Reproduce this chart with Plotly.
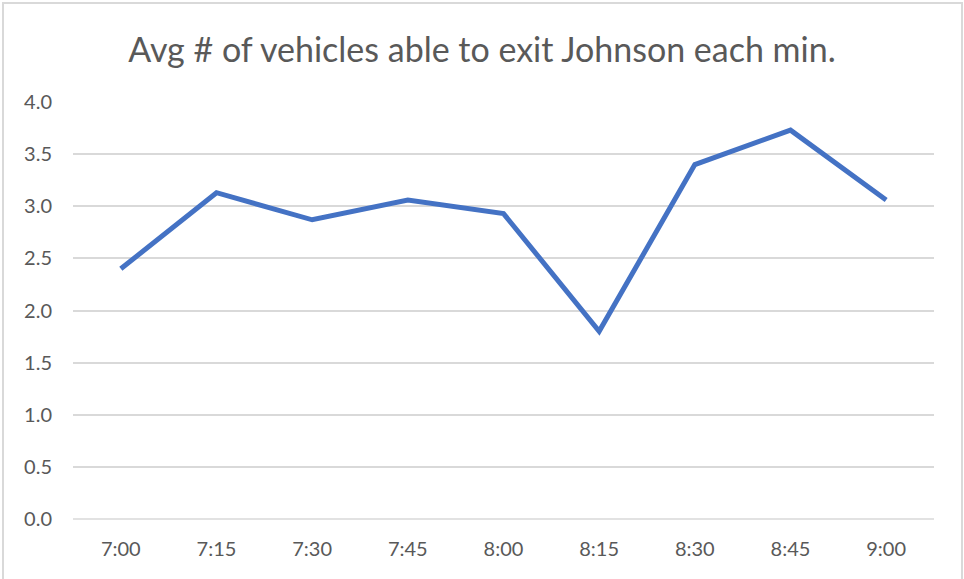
import plotly.graph_objects as go

times = ["7:00", "7:15", "7:30", "7:45", "8:00", "8:15", "8:30", "8:45", "9:00"]
avg_vehicles = [2.40, 3.13, 2.87, 3.06, 2.93, 1.80, 3.40, 3.73, 3.06]
y_ticks = [0, 0.5, 1.0, 1.5, 2.0, 2.5, 3.0, 3.5, 4.0]
y_tick_labels = ["0.0", "0.5", "1.0", "1.5", "2.0", "2.5", "3.0", "3.5", "4.0"]

W, H = 964, 579
L, R, T, B = 73, 30, 102, 60
pw, ph = W - L - R, H - T - B

fig = go.Figure()
fig.add_trace(go.Scatter(
    x=times, y=avg_vehicles, mode="lines",
    line=dict(color="#4472C4", width=5, shape="linear"),
    hoverinfo="x+y",
))

def px_x(p):
    return (p - L) / pw

def px_y(p):
    return (H - B - p) / ph

fig.update_layout(
    width=W, height=H,
    margin=dict(l=L, r=R, t=T, b=B),
    paper_bgcolor="white", plot_bgcolor="white",
    showlegend=False,
    font=dict(family="Lato, Open Sans, sans-serif", color="#595959", size=20),
    title=dict(
        text="Avg # of vehicles able to exit Johnson each min.",
        x=0.5, xanchor="center", y=1 - 50 / H, yanchor="middle",
        font=dict(size=34, color="#595959", family="Lato, sans-serif"),
    ),
    xaxis=dict(
        type="category", showgrid=False, showline=False, zeroline=False,
        ticks="", tickfont=dict(size=20, color="#595959"),
        range=[-0.5, len(times) - 0.5],
        ticklabelstandoff=16,
    ),
    yaxis=dict(
        range=[0, 4.0], tickvals=y_ticks, ticktext=y_tick_labels,
        showgrid=True, gridcolor="#D9D9D9", gridwidth=1.5,
        zeroline=False, showline=False, ticks="",
        tickfont=dict(size=20, color="#595959"),
        ticklabelstandoff=20,
    ),
    shapes=[
        dict(type="line", xref="paper", yref="paper",
             x0=0, x1=1, y0=0, y1=0,
             line=dict(color="#D9D9D9", width=1.5), layer="below"),
        dict(type="rect", xref="paper", yref="paper",
             x0=px_x(3), x1=px_x(962), y0=px_y(3), y1=px_y(H + 5),
             line=dict(color="#D9D9D9", width=2), fillcolor="rgba(0,0,0,0)"),
    ],
)

fig.write_html("out.html")
